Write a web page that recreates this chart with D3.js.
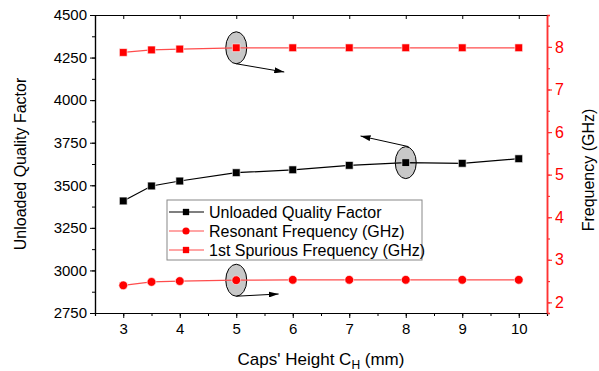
<!DOCTYPE html>
<head>
<style>
  body { margin: 0; background: #fff; }
  text { font-family: Arial, "Liberation Sans", sans-serif; }
</style>
</head>
<body>
<svg id="chart" width="599" height="371"></svg>
<script src="https://d3js.org/d3.v7.min.js"></script>
<script>
const capsHeight = [3, 3.5, 4, 5, 6, 7, 8, 9, 10]
const qFactor = [3408, 3496, 3525, 3574, 3591, 3617, 3633, 3629, 3656]
const resonantFreq = [2.40, 2.48, 2.50, 2.52, 2.53, 2.53, 2.53, 2.53, 2.53]
const spuriousFreq = [7.87, 7.93, 7.95, 7.98, 7.98, 7.98, 7.98, 7.98, 7.98]
const xTicks = [3, 4, 5, 6, 7, 8, 9, 10]
const qTicks = [2750, 3000, 3250, 3500, 3750, 4000, 4250, 4500]
const fTicks = [2, 3, 4, 5, 6, 7, 8]
const legendNames = ["Unloaded Quality Factor", "Resonant Frequency (GHz)", "1st Spurious Frequency (GHz)"]

const red = "#ff0000", redLine = "#ff4d4d", redAxis = "#ff3333"
const pLeft = 95, pRight = 547, pTop = 15, pBottom = 313

let svg = d3.select("#chart")
let x = d3.scaleLinear().domain([2.5, 10.5]).range([pLeft, pRight])
let yQ = d3.scaleLinear().domain([2750, 4500]).range([pBottom, pTop])
let yF = d3.scaleLinear().domain([1.75, 8.75]).range([pBottom, pTop])

// minor ticks first
let minorX = d3.range(2.5, 10.51, 0.5)
svg.append("g").attr("transform", `translate(0,${pBottom})`)
    .call(d3.axisBottom(x).tickValues(minorX).tickSize(3).tickFormat(""))
svg.append("g").attr("transform", `translate(${pLeft},0)`)
    .call(d3.axisLeft(yQ).tickValues(d3.range(2750, 4501, 125)).tickSize(3).tickFormat(""))
svg.append("g").attr("transform", `translate(${pRight},0)`).attr("class", "rminor")
    .call(d3.axisRight(yF).tickValues(d3.range(2, 8.51, 0.5)).tickSize(3).tickFormat(""))

// main axes
let fmt = d3.format("d")
let xAxis = svg.append("g").attr("transform", `translate(0,${pBottom})`)
    .call(d3.axisBottom(x).tickValues(xTicks).tickSize(5).tickSizeOuter(0).tickPadding(5).tickFormat(fmt))
let topAxis = svg.append("g").attr("transform", `translate(0,${pTop})`)
    .call(d3.axisBottom(x).tickValues(xTicks).tickSize(4).tickSizeOuter(0).tickFormat(""))
let qAxis = svg.append("g").attr("transform", `translate(${pLeft},0)`)
    .call(d3.axisLeft(yQ).tickValues(qTicks).tickSize(5).tickSizeOuter(0).tickPadding(3).tickFormat(fmt))
let fAxis = svg.append("g").attr("transform", `translate(${pRight},0)`).attr("class", "raxis")
    .call(d3.axisRight(yF).tickValues(fTicks).tickSize(5).tickSizeOuter(0).tickPadding(3).tickFormat(fmt))

svg.selectAll(".tick text").attr("font-size", 15).attr("fill", "#000")
svg.selectAll("path.domain").attr("stroke", "#000").attr("stroke-width", 1.2)
svg.selectAll(".rminor line, .raxis line").attr("stroke", redAxis).attr("stroke-width", 1.2)
svg.selectAll(".rminor path.domain, .raxis path.domain").attr("stroke", redAxis).attr("stroke-width", 1.5)
fAxis.selectAll(".tick text").attr("fill", red).attr("font-size", 16)

// axis titles
svg.append("text").attr("x", 321).attr("y", 365).attr("text-anchor", "middle")
    .attr("font-size", 17)
    .html("Caps' Height C<tspan font-size='12' dy='4'>H</tspan><tspan dy='-4'> (mm)</tspan>")
svg.append("text").attr("transform", `translate(26,164) rotate(-90)`)
    .attr("text-anchor", "middle").attr("font-size", 16).text("Unloaded Quality Factor")
svg.append("text").attr("transform", `translate(594,170) rotate(-90)`)
    .attr("text-anchor", "middle").attr("font-size", 16).text("Frequency (GHz)")

// annotations: ellipses and arrows
svg.append("defs").append("marker").attr("id", "arr")
    .attr("viewBox", "0 0 10 6").attr("refX", 10).attr("refY", 3)
    .attr("markerWidth", 10).attr("markerHeight", 6).attr("markerUnits", "userSpaceOnUse")
    .attr("orient", "auto")
    .append("path").attr("d", "M0,0L10,3L0,6Z").attr("fill", "#000")

let notes = [
    {cx: 5, cy: yF(7.98), from: [5, yF(7.98) + 16], to: [5.85, 72]},
    {cx: 8, cy: yQ(3633), from: [8.05, yQ(3633) - 16], to: [7.2, 136]},
    {cx: 5, cy: yF(2.52), from: [5, yF(2.52) + 16], to: [5.75, 294]}
]
notes.forEach(n => {
    svg.append("ellipse").attr("cx", x(n.cx)).attr("cy", n.cy).attr("rx", 10.5).attr("ry", 16)
        .attr("fill", "#c8c8c8").attr("stroke", "#000").attr("stroke-width", 1)
    svg.append("line").attr("x1", x(n.from[0])).attr("y1", n.from[1])
        .attr("x2", x(n.to[0])).attr("y2", n.to[1])
        .attr("stroke", "#000").attr("stroke-width", 1).attr("marker-end", "url(#arr)")
})

// series
let series = [
    {vals: qFactor, y: yQ, line: "#000", fill: "#000", shape: "square"},
    {vals: resonantFreq, y: yF, line: redLine, fill: red, shape: "circle"},
    {vals: spuriousFreq, y: yF, line: redLine, fill: red, shape: "square"}
]
series.forEach(s => {
    let pts = capsHeight.map((c, i) => [x(c), s.y(s.vals[i])])
    svg.append("path").attr("d", d3.line()(pts)).attr("fill", "none")
        .attr("stroke", s.line).attr("stroke-width", 1.2)
    let sym = d3.symbol().type(s.shape == "square" ? d3.symbolSquare : d3.symbolCircle).size(60)
    svg.selectAll(null).data(pts).enter().append("path")
        .attr("transform", d => `translate(${d[0]},${d[1]})`)
        .attr("d", sym).attr("fill", s.fill).attr("stroke", "#fff").attr("stroke-width", 0.6)
})

// legend
let lg = svg.append("g")
lg.append("rect").attr("x", 167).attr("y", 200).attr("width", 255).attr("height", 60)
    .attr("fill", "#fff").attr("stroke", "#888").attr("stroke-width", 1)
series.forEach((s, i) => {
    let ly = 212 + i * 19
    lg.append("line").attr("x1", 169).attr("x2", 204).attr("y1", ly).attr("y2", ly)
        .attr("stroke", s.line).attr("stroke-width", 1.2)
    lg.append("path").attr("transform", `translate(186,${ly})`)
        .attr("d", d3.symbol().type(s.shape == "square" ? d3.symbolSquare : d3.symbolCircle).size(40))
        .attr("fill", s.fill)
    lg.append("text").attr("x", 209).attr("y", ly + 5.5).attr("font-size", 16).text(legendNames[i])
})
</script>
</body>
